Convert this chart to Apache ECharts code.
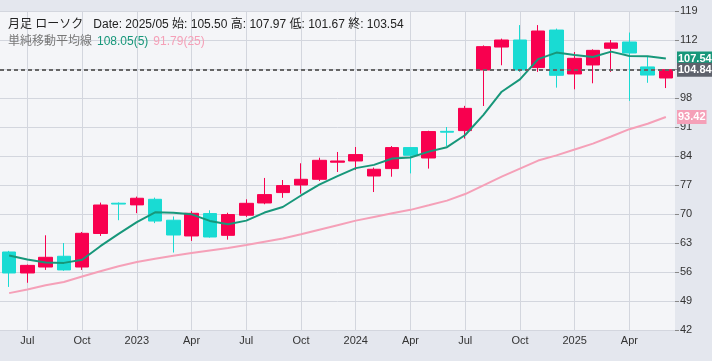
<!DOCTYPE html>
<html><head><meta charset="utf-8">
<script src="https://cdn.jsdelivr.net/npm/echarts@6/dist/echarts.min.js"></script>
<style>html,body{margin:0;padding:0;background:#e4e7ee}#c{width:712px;height:361px}</style>
</head><body><div id="c"></div>
<script>
const months = ['2022-06','2022-07','2022-08','2022-09','2022-10','2022-11','2022-12',
 '2023-01','2023-02','2023-03','2023-04','2023-05','2023-06','2023-07','2023-08','2023-09','2023-10','2023-11','2023-12',
 '2024-01','2024-02','2024-03','2024-04','2024-05','2024-06','2024-07','2024-08','2024-09','2024-10','2024-11','2024-12',
 '2025-01','2025-02','2025-03','2025-04','2025-05','2025-06'];
const opens  = [60.83,55.76,57.2,59.8,57.2,65.3,72.6,72.2,73.55,68.5,64.7,70.1,64.85,69.7,72.66,75.17,77.0,78.38,82.5,82.8,79.17,80.96,86.03,83.52,89.95,90.13,104.76,110.3,112.0,105.34,114.4,103.8,105.97,110.0,111.52,105.50,102.83];
const closes = [55.76,57.6,59.55,56.5,65.34,72.17,72.4,73.8,68.3,64.93,70.17,64.45,69.86,72.58,74.68,76.86,78.38,82.96,82.8,84.34,80.8,86.03,84.17,89.9,89.75,95.5,110.4,112.0,104.76,114.17,103.48,107.58,109.5,111.28,108.86,103.54,104.84];
const lows   = [52.4,53.4,56.5,56.3,56.5,64.7,68.5,70.2,67.8,60.7,63.5,64.3,63.8,69.3,72.35,73.9,74.9,77.97,80.14,80.6,75.3,79.0,79.8,80.96,86.4,88.2,96.07,105.9,104.3,104.3,100.5,100.1,101.55,104.3,97.3,101.67,100.4];
const highs  = [61.1,57.8,64.86,63.0,65.66,72.75,72.8,74.2,73.96,69.4,70.7,70.9,70.3,73.55,78.7,78.2,82.24,83.6,84.97,86.17,81.2,86.4,86.03,90.1,91.0,96.1,110.7,112.33,115.6,115.6,114.75,109.1,109.75,112.0,113.8,107.97,104.9];
const ma5    = [60.0,59.0,58.3,58.2,58.95,62.23,65.19,68.04,70.40,70.32,69.92,68.33,67.54,68.40,70.35,71.69,74.47,77.09,79.14,81.07,81.86,83.39,83.63,85.05,86.13,89.07,93.94,99.51,102.48,107.37,108.96,108.40,107.90,109.20,108.14,108.05,107.54];
const ma25   = [50.9,51.8,52.8,53.6,54.9,56.2,57.4,58.4,59.2,59.9,60.6,61.2,61.8,62.5,63.3,64.1,65.1,66.2,67.3,68.4,69.3,70.2,71.0,72.1,73.23,74.82,76.92,79.02,80.95,82.9,84.15,85.56,86.99,88.71,90.47,91.79,93.42];
const yTicks = {min: 42, max: 119, step: 7};
const monthNames = ['Jan','Feb','Mar','Apr','May','Jun','Jul','Aug','Sep','Oct','Nov','Dec'];
const hoverIdx = 35;

const UP = '#f8004f', DOWN = '#19dbd3', MA5C = '#17977a', MA25C = '#f5a0b8';
const FONT = "Arial, 'Liberation Sans', 'Noto Sans CJK JP', sans-serif";
const candles = months.map((m, i) => [opens[i], closes[i], lows[i], highs[i]]);
const last = months.length - 1;
const isQuarter = (idx, v) => [1,4,7,10].includes(+v.split('-')[1]);
const tagLabel = (txt, bg) => ({position: 'end', distance: 2, formatter: () => txt,
  backgroundColor: bg, color: '#fff', fontSize: 11, fontWeight: 'bold', fontFamily: FONT, padding: [2, 1, 1, 1]});

const chart = echarts.init(document.getElementById('c'));
chart.setOption({
  backgroundColor: '#e4e7ee',
  animation: false,
  title: [{
    left: 8, top: 16, padding: 0,
    text: '{a|月足 ローソク}  {a|Date: ' + months[hoverIdx].replace('-', '/') + ' 始: ' + opens[hoverIdx].toFixed(2) +
      ' 高: ' + highs[hoverIdx].toFixed(2) + ' 低: ' + lows[hoverIdx].toFixed(2) + ' 終: ' + closes[hoverIdx].toFixed(2) + '}',
    textStyle: {fontWeight: 'normal', rich: {a: {fontSize: 12, color: '#222', fontWeight: 'normal', fontFamily: FONT}}}
  }, {
    left: 8, top: 33, padding: 0,
    text: '{g|単純移動平均線} {m|' + ma5[hoverIdx].toFixed(2) + '(5)} {p|' + ma25[hoverIdx].toFixed(2) + '(25)}',
    textStyle: {fontWeight: 'normal', rich: {
      g: {fontSize: 12, color: '#777', fontWeight: 'normal', fontFamily: FONT},
      m: {fontSize: 12, color: MA5C, fontWeight: 'normal', fontFamily: FONT},
      p: {fontSize: 12, color: MA25C, fontWeight: 'normal', fontFamily: FONT}
    }}
  }],
  grid: {left: 0, right: 37, top: 11, bottom: 31, show: true, backgroundColor: '#f4f5f8', borderWidth: 0},
  xAxis: {
    type: 'category', data: months, boundaryGap: true,
    axisLine: {show: true, lineStyle: {color: '#d3d6de'}},
    axisTick: {show: false},
    axisLabel: {
      interval: isQuarter, margin: 5, color: '#333', fontSize: 11, fontFamily: FONT,
      formatter: v => { const [y, m] = v.split('-'); return +m === 1 ? y : monthNames[+m - 1]; }
    },
    splitLine: {show: true, interval: isQuarter, alignWithLabel: true, lineStyle: {color: '#d3d6de', width: 1}}
  },
  yAxis: {
    type: 'value', position: 'right', min: yTicks.min, max: yTicks.max, interval: yTicks.step, scale: true,
    axisLine: {show: false},
    axisTick: {show: true, length: 4, lineStyle: {color: '#888'}},
    axisLabel: {margin: 5, color: '#333', fontSize: 11, fontFamily: FONT},
    splitLine: {lineStyle: {color: '#d3d6de', width: 1}}
  },
  series: [{
    type: 'candlestick', data: candles, barWidth: 14,
    itemStyle: {color: UP, color0: DOWN, borderColor: UP, borderColor0: DOWN, borderWidth: 1},
    markLine: {
      silent: true, symbol: 'none', z: 10,
      lineStyle: {color: '#666', type: [4, 3], width: 2},
      label: tagLabel(closes[last].toFixed(2), '#5e626c'),
      data: [{yAxis: closes[last]}]
    }
  }, {
    type: 'line', data: ma5, symbol: 'none', z: 3,
    lineStyle: {color: MA5C, width: 2},
    markLine: {
      silent: true, symbol: 'none',
      lineStyle: {color: 'transparent', width: 0},
      label: tagLabel(ma5[last].toFixed(2), MA5C),
      data: [{yAxis: ma5[last]}]
    }
  }, {
    type: 'line', data: ma25, symbol: 'none', z: 3,
    lineStyle: {color: MA25C, width: 2},
    markLine: {
      silent: true, symbol: 'none',
      lineStyle: {color: 'transparent', width: 0},
      label: tagLabel(ma25[last].toFixed(2), MA25C),
      data: [{yAxis: ma25[last]}]
    }
  }]
});
</script></body></html>
